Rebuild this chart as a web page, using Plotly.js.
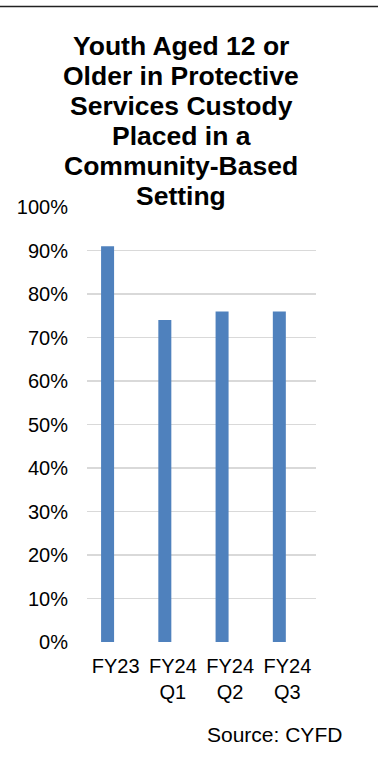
<!DOCTYPE html>
<html>
<head>
<meta charset="utf-8">
<script src="https://cdn.plot.ly/plotly-3.0.1.min.js"></script>
<style>
  html, body { margin: 0; padding: 0; background: #ffffff; }
  #chart { width: 378px; height: 758px; }
</style>
</head>
<body>
<div id="chart"></div>
<script>
// Reporting periods and share of youth placed in a community-based setting
const periods = ['FY23', 'FY24<br>Q1', 'FY24<br>Q2', 'FY24<br>Q3'];
const shares = [0.91, 0.74, 0.76, 0.76];
const yTicks = [0, 0.1, 0.2, 0.3, 0.4, 0.5, 0.6, 0.7, 0.8, 0.9, 1.0];

const titleLines = [
  'Youth Aged 12 or',
  'Older in Protective',
  'Services Custody',
  'Placed in a',
  'Community-Based',
  'Setting'
];
const sourceNote = 'Source: CYFD';

const FONT = '"Liberation Sans", Arial, Helvetica, sans-serif';

// Plot box in pixels
const W = 378, H = 758;
const M = { l: 87, r: 62, t: 207, b: 116 };
const plotW = W - M.l - M.r;
const plotH = H - M.t - M.b;
const px2x = px => (px - M.l) / plotW;
const px2y = py => (H - M.b - py) / plotH;

const annotations = titleLines.map((line, i) => ({
  text: '<b>' + line + '</b>',
  xref: 'paper', yref: 'paper',
  x: px2x(181), y: px2y(46 + i * 30),
  xanchor: 'center', yanchor: 'middle',
  showarrow: false,
  font: { family: FONT, size: 26.5, color: '#000000' }
}));

annotations.push({
  text: sourceNote,
  xref: 'paper', yref: 'paper',
  x: px2x(344), y: px2y(734),
  xanchor: 'right', yanchor: 'middle',
  showarrow: false,
  font: { family: FONT, size: 21, color: '#000000' }
});

// Bars sit in the left half of each category slot
const trace = {
  type: 'bar',
  x: periods,
  y: shares,
  width: 0.227,
  offset: -0.254,
  marker: { color: '#4F81BD' },
  hoverinfo: 'skip'
};

const layout = {
  width: W, height: H,
  margin: M,
  paper_bgcolor: '#ffffff',
  plot_bgcolor: '#ffffff',
  showlegend: false,
  font: { family: FONT, color: '#000000' },
  xaxis: {
    type: 'category',
    showgrid: false, showline: false, zeroline: false,
    ticks: 'outside', ticklen: 6, tickcolor: 'rgba(0,0,0,0)',
    tickfont: { family: FONT, size: 20, color: '#000000' },
    fixedrange: true
  },
  yaxis: {
    range: [0, 1],
    tickvals: yTicks,
    tickformat: '.0%',
    showgrid: true, gridcolor: '#d9d9d9', gridwidth: 1.5,
    showline: false, zeroline: false,
    ticks: 'outside', ticklen: 14, tickcolor: 'rgba(0,0,0,0)',
    tickfont: { family: FONT, size: 20, color: '#000000' },
    fixedrange: true
  },
  annotations: annotations,
  shapes: [{
    type: 'line', xref: 'paper', yref: 'paper',
    x0: px2x(0), x1: px2x(W), y0: px2y(6.5), y1: px2y(6.5),
    line: { color: '#222222', width: 1.3 }
  }]
};

Plotly.newPlot('chart', [trace], layout, { displayModeBar: false, staticPlot: true });
</script>
</body>
</html>
